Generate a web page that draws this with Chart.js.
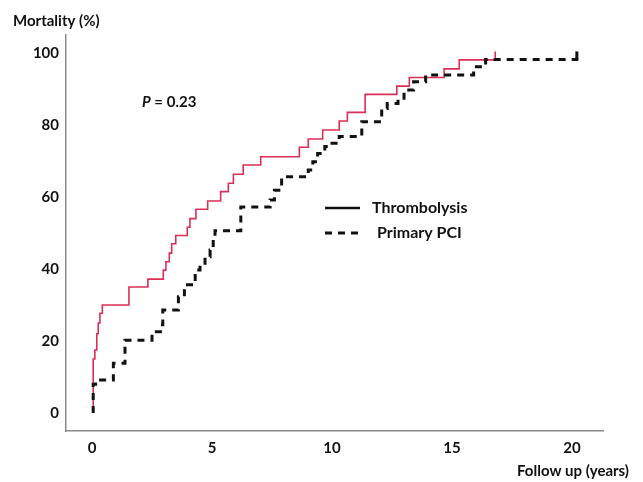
<!DOCTYPE html>
<html>
<head>
<meta charset="utf-8">
<script src="https://cdn.jsdelivr.net/npm/chart.js@4/dist/chart.umd.min.js"></script>
<style>
html,body{margin:0;padding:0;background:#fff;}
#wrap{width:643px;height:482px;position:relative;}
</style>
</head>
<body>
<div id="wrap"><canvas id="c" width="643" height="482"></canvas></div>
<script>
// Thrombolysis (years, mortality %)
const thrombolysisYears = [0.05,0.05,0.12,0.2,0.26,0.33,0.43,1.54,2.33,2.97,3.08,3.22,3.32,3.49,3.97,4.08,4.33,4.82,5.36,5.68,5.89,6.3,7.03,8.64,9.01,9.61,10.3,10.64,11.38,12.7,13.22,14.67,15.3,16.8,16.8];
const thrombolysisMortality = [0,15,17.5,22,25,27.7,30,35,37.2,39.7,42,44.4,47,49.3,51.6,54,56.6,58.9,61.5,63.8,66.3,68.9,71.2,73.8,76.1,78.6,81.1,83.5,88.5,90.8,93.2,95.6,98.1,98.1,100.4];
// Primary PCI (years, mortality %)
const pciYears = [0.05,0.05,0.15,0.89,1.375,2.5,2.85,2.95,3.6,3.85,4.3,4.5,4.71,4.92,5.05,5.125,6.2,7.42,7.6,7.9,9.01,9.2,9.4,9.7,10.0,10.3,11.24,12.07,12.3,12.75,13.0,13.4,13.9,15.9,16.4,20.2,20.2];
const pciMortality = [0,8,9.2,13.8,20.2,22.6,24.5,28.6,32.3,35.6,39.7,41,43.4,45.3,48.5,50.6,57.2,59.2,61.9,65.6,67.5,69.8,72.1,74,74.9,76.8,80.9,84.6,86,87.4,89.7,92,93.9,96.2,98.2,98.2,100.4];
const xTickValues = [0,5,10,15,20];
const yTickValues = [0,20,40,60,80,100];
const seriesNames = ['Thrombolysis','Primary PCI'];

const FONT = 'Lato, "Liberation Sans", sans-serif';
const toPts = (xs, ys) => xs.map((x, i) => ({x: x, y: ys[i]}));
const lastN = (arr, n) => arr.slice(arr.length - n);

const annot = {
  id: 'annot',
  afterDraw(chart) {
    const ctx = chart.ctx;
    ctx.save();
    ctx.fillStyle = '#111';
    ctx.textBaseline = 'middle';
    ctx.font = 'bold 15px ' + FONT;
    ctx.textAlign = 'left';
    ctx.fillText('Mortality (%)', 13, 21);
    ctx.fillText('Follow up (years)', 517, 471);
    // P value
    ctx.font = 'italic bold 15px ' + FONT;
    ctx.fillText('P', 142, 102);
    const pw = ctx.measureText('P').width;
    ctx.font = 'bold 15px ' + FONT;
    ctx.fillText(' = 0.23', 142 + pw, 102);
    // legend
    ctx.font = 'bold 16px ' + FONT;
    ctx.fillText(seriesNames[0], 372, 208);
    ctx.fillText(seriesNames[1], 377, 233);
    ctx.strokeStyle = '#111';
    ctx.lineWidth = 2.5;
    ctx.beginPath(); ctx.moveTo(325, 208); ctx.lineTo(360, 208); ctx.stroke();
    ctx.lineWidth = 3;
    ctx.setLineDash([7, 6]);
    ctx.beginPath(); ctx.moveTo(325, 233); ctx.lineTo(359, 233); ctx.stroke();
    ctx.restore();
  }
};

new Chart(document.getElementById('c'), {
  type: 'line',
  data: {
    datasets: [
      {
        label: seriesNames[1],
        data: toPts(pciYears, pciMortality),
        stepped: 'before',
        borderColor: '#111',
        borderWidth: 3,
        borderDash: [7, 6],
        pointRadius: 0,
        fill: false
      },
      {
        label: seriesNames[1] + ' end',
        data: toPts(lastN(pciYears, 2), lastN(pciMortality, 2)),
        borderColor: '#111',
        borderWidth: 3,
        pointRadius: 0,
        fill: false
      },
      {
        label: seriesNames[0],
        data: toPts(thrombolysisYears, thrombolysisMortality),
        stepped: 'before',
        borderColor: '#dc2f55',
        borderWidth: 1.6,
        pointRadius: 0,
        fill: false
      }
    ]
  },
  options: {
    responsive: false,
    animation: false,
    layout: {padding: {left: 0, top: 35, right: 40, bottom: 0}},
    plugins: {legend: {display: false}, tooltip: {enabled: false}},
    scales: {
      x: {
        type: 'linear',
        min: -1.083,
        max: 21.29,
        grid: {display: false, drawTicks: false},
        border: {display: true, color: '#8a8a8a', width: 1.5},
        afterBuildTicks: s => { s.ticks = xTickValues.map(v => ({value: v})); },
        afterFit: s => { s.height = 51; },
        ticks: {
          padding: 8,
          color: '#111',
          font: {family: FONT, size: 15, weight: 'bold'},
          maxRotation: 0,
          autoSkip: false
        }
      },
      y: {
        type: 'linear',
        min: -5,
        max: 105,
        grid: {display: false, drawTicks: false},
        border: {display: true, color: '#8a8a8a', width: 1.5},
        afterBuildTicks: s => { s.ticks = yTickValues.map(v => ({value: v})); },
        afterFit: s => { s.width = 66; },
        ticks: {
          padding: 7,
          color: '#111',
          font: {family: FONT, size: 15, weight: 'bold'},
          autoSkip: false
        }
      }
    }
  },
  plugins: [annot]
});
</script>
</body>
</html>
